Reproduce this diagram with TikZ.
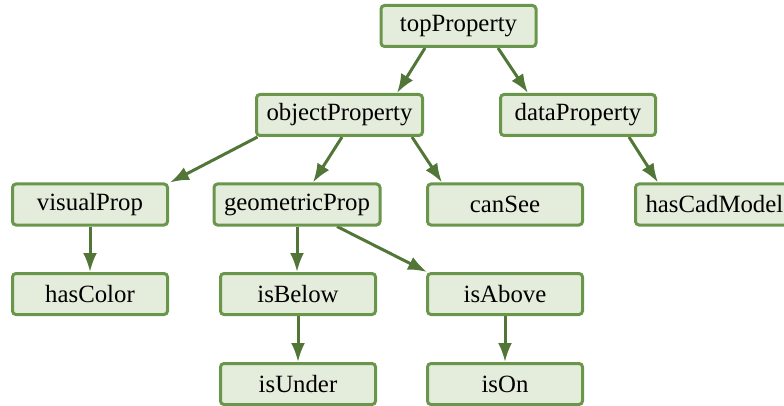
\documentclass[tikz,border=0pt]{standalone}
\usepackage{fontspec}
\setmainfont{Liberation Serif}
\usetikzlibrary{arrows.meta,calc}
\definecolor{boxfill}{RGB}{228,236,220}
\definecolor{boxline}{RGB}{106,150,76}
\definecolor{arrowcol}{RGB}{82,118,56}
\pgfdeclarelayer{bg}
\pgfsetlayers{bg,main}
\begin{document}
\begin{tikzpicture}[x=1pt,y=-1pt,
  box/.style={draw=boxline, fill=boxfill, line width=3pt, rounded corners=3.5pt,
    minimum width=155pt, minimum height=41pt, inner xsep=10pt, inner ysep=0pt,
    font=\fontsize{24.8}{27}\selectfont},
  arr/.style={draw=arrowcol, line width=3pt, -{Latex[length=19pt,width=14pt]}}]
\useasboundingbox (0,0) rectangle (784,406);
\node[box] (top) at (458.5,26) {topProperty};
\node[box] (obj) at (339.5,115) {objectProperty};
\node[box] (data) at (578,115) {dataProperty};
\node[box] (visual) at (90,204.5) {visualProp};
\node[box] (geom) at (297,204.5) {geometricProp};
\node[box] (cansee) at (505,204.5) {canSee};
\node[box, anchor=west] (hascad) at (634,204.5) {hasCadModel};
\node[box] (hascolor) at (90,294) {hasColor};
\node[box] (isbelow) at (298,294) {isBelow};
\node[box] (isabove) at (505,294) {isAbove};
\node[box] (isunder) at (298,384) {isUnder};
\node[box] (ison) at (505,384) {isOn};
\begin{pgfonlayer}{bg}
\draw[arr] ($(top.south)+(-33.5,0)$) -- ($(obj.north)+(57.5,0)$);
\draw[arr] ($(top.south)+(39.5,0)$) -- ($(data.north)+(-50,0)$);
\draw[arr] ($(obj.south west)+(2.5,0)$) -- ($(visual.north east)+(1,0)$);
\draw[arr] ($(obj.south)+(2.5,0)$) -- ($(geom.north)+(16,0)$);
\draw[arr] ($(obj.south)+(72.5,0)$) -- ($(cansee.north)+(-63,0)$);
\draw[arr] ($(data.south)+(51,0)$) -- ($(hascad.north west)+(24,0)$);
\draw[arr] (visual.south) -- (hascolor.north);
\draw[arr] (geom.south) -- ($(isbelow.north)+(-1,0)$);
\draw[arr] ($(geom.south)+(40,0)$) -- ($(isabove.north west)+(1,0)$);
\draw[arr] (isbelow.south) -- (isunder.north);
\draw[arr] (isabove.south) -- (ison.north);
\end{pgfonlayer}
\end{tikzpicture}
\end{document}
